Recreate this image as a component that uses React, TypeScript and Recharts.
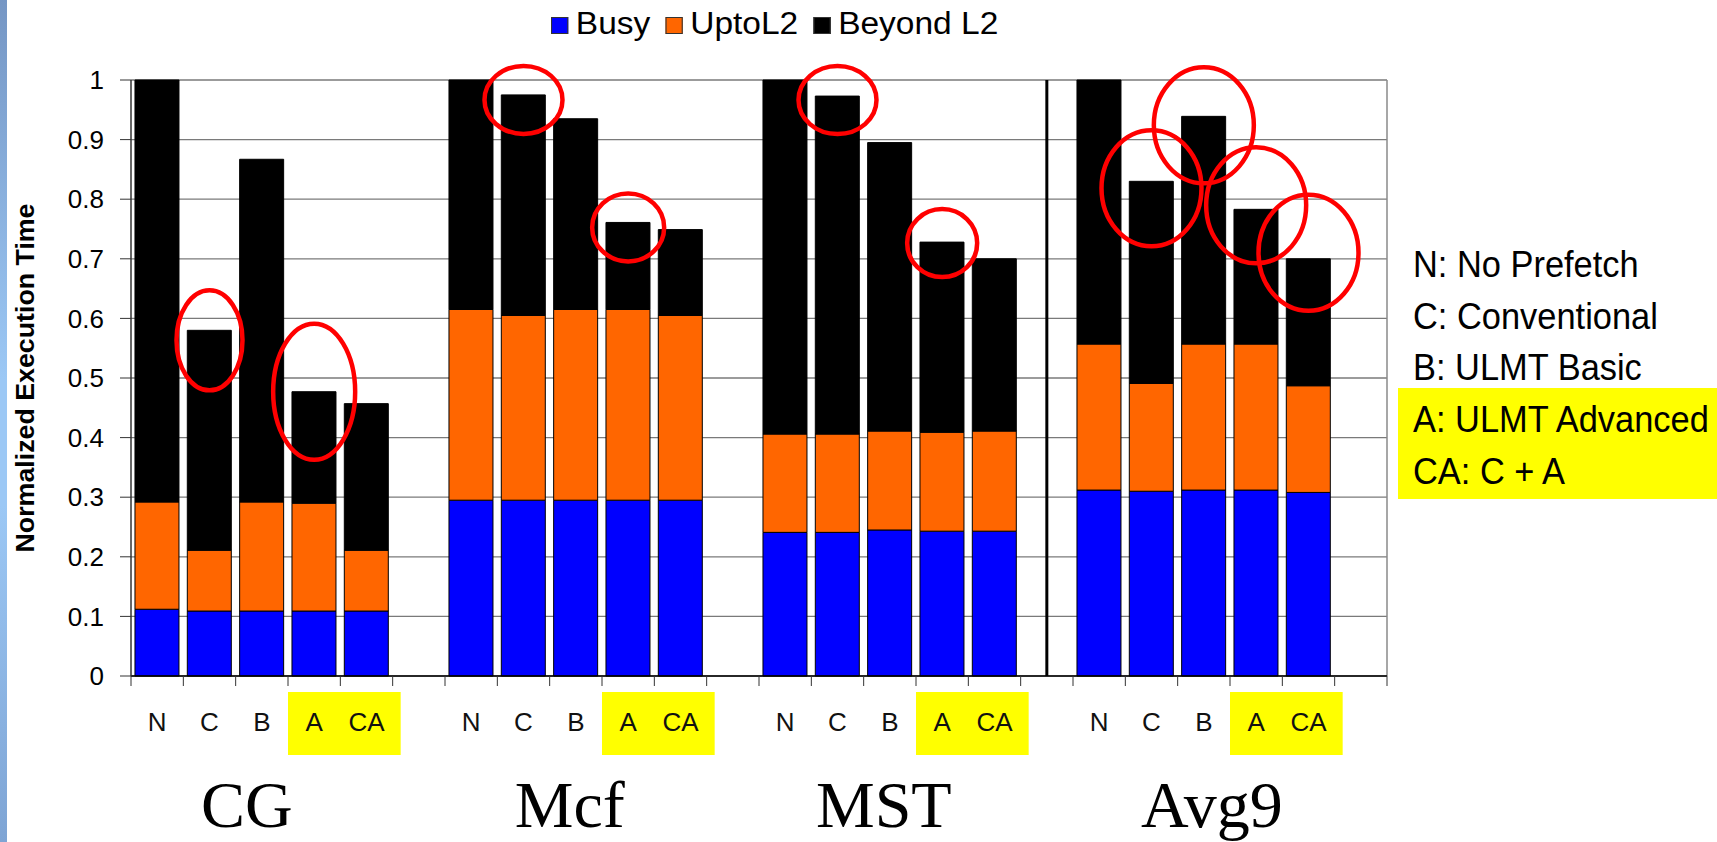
import React from "react";
import {
  BarChart,
  Bar,
  XAxis,
  YAxis,
  CartesianGrid,
  ReferenceLine,
  ReferenceDot,
} from "recharts";

const groups = ["CG", "Mcf", "MST", "Avg9"];
const schemes = ["N", "C", "B", "A", "CA"];

// segment heights per group, schemes in order N, C, B, A, CA
const busy = [
  [0.112, 0.109, 0.109, 0.109, 0.109],
  [0.295, 0.295, 0.295, 0.295, 0.295],
  [0.241, 0.241, 0.245, 0.243, 0.243],
  [0.312, 0.31, 0.312, 0.312, 0.308],
];
const uptoL2 = [
  [0.18, 0.102, 0.183, 0.181, 0.102],
  [0.32, 0.31, 0.32, 0.32, 0.31],
  [0.165, 0.165, 0.166, 0.166, 0.168],
  [0.245, 0.181, 0.245, 0.245, 0.179],
];
const beyondL2 = [
  [0.708, 0.369, 0.575, 0.187, 0.246],
  [0.385, 0.37, 0.32, 0.146, 0.144],
  [0.594, 0.567, 0.484, 0.319, 0.289],
  [0.443, 0.339, 0.382, 0.226, 0.213],
];

const yTicks = [0, 0.1, 0.2, 0.3, 0.4, 0.5, 0.6, 0.7, 0.8, 0.9, 1];

const seriesKeys = [
  { key: "busy", name: "Busy", color: "#0000FF" },
  { key: "upto", name: "UptoL2", color: "#FF6600" },
  { key: "beyond", name: "Beyond L2", color: "#000000" },
];

const keyNotes = [
  "N: No Prefetch",
  "C: Conventional",
  "B: ULMT Basic",
  "A: ULMT Advanced",
  "CA: C + A",
];

// red rings drawn around the tops of selected bars
const circled = [
  { group: "CG", scheme: "C", rx: 33, ry: 50, dy: 10 },
  { group: "CG", scheme: "A", rx: 41, ry: 68, dy: 0 },
  { group: "Mcf", scheme: "C", rx: 39, ry: 34, dy: 5 },
  { group: "Mcf", scheme: "A", rx: 36, ry: 34, dy: 5 },
  { group: "MST", scheme: "C", rx: 39, ry: 34, dy: 4 },
  { group: "MST", scheme: "A", rx: 35, ry: 34, dy: 1 },
  { group: "Avg9", scheme: "C", rx: 50, ry: 58, dy: 7 },
  { group: "Avg9", scheme: "B", rx: 50, ry: 58, dy: 9 },
  { group: "Avg9", scheme: "A", rx: 50, ry: 58, dy: -4 },
  { group: "Avg9", scheme: "CA", rx: 50, ry: 58, dy: -6 },
];

// horizontal nudge of each big group caption under its bars
const captionShift: Record<string, number> = { CG: -15, Mcf: -6, MST: -6, Avg9: 8 };

type Row = {
  id: string;
  group: string;
  letter: string;
  busy?: number;
  upto?: number;
  beyond?: number;
};

const rows: Row[] = [];
groups.forEach((g, gi) => {
  schemes.forEach((s, si) => {
    rows.push({
      id: `${g} ${s}`,
      group: g,
      letter: s,
      busy: busy[gi][si],
      upto: uptoL2[gi][si],
      beyond: beyondL2[gi][si],
    });
  });
  rows.push({ id: `${g} gap`, group: g, letter: "" });
});

const totalOf = (id: string) => {
  const r = rows.find((d) => d.id === id)!;
  return (r.busy ?? 0) + (r.upto ?? 0) + (r.beyond ?? 0);
};

const W = 1717;
const H = 842;
const AXIS_W = 131;
const MARGIN = { top: 80, right: 330, bottom: 0, left: 0 };
const SLOT = (W - AXIS_W - MARGIN.right) / rows.length;
const SANS = "'Liberation Sans', Arial, sans-serif";

const SlotTick = (props: any) => {
  const { x, y, index } = props;
  const row = rows[index];
  if (!row) return null;
  const left = x - SLOT / 2;
  return (
    <g>
      <line x1={left} x2={left} y1={y} y2={y + 10} stroke="#333" />
      {index === rows.length - 1 && (
        <line x1={x + SLOT / 2} x2={x + SLOT / 2} y1={y} y2={y + 10} stroke="#333" />
      )}
      {row.letter === "A" && (
        <rect x={left} y={y + 16} width={SLOT * 2 + 8} height={63} fill="#FFFF00" />
      )}
      {row.letter && (
        <text x={x} y={y + 55} textAnchor="middle" fontSize={26} fontFamily={SANS} fill="#111">
          {row.letter}
        </text>
      )}
      {row.letter === "B" && (
        <text
          x={x + (captionShift[row.group] ?? 0)}
          y={y + 151}
          textAnchor="middle"
          fontSize={66}
          fontFamily="'Liberation Serif', 'Times New Roman', serif"
          fill="#000"
        >
          {row.group}
        </text>
      )}
    </g>
  );
};

const AxisTitle = () => (
  <text
    transform="translate(25,378) rotate(-90)"
    textAnchor="middle"
    dominantBaseline="central"
    fontSize={25}
    fontWeight="bold"
    fontFamily={SANS}
    textLength={349}
    lengthAdjust="spacingAndGlyphs"
    fill="#000"
  >
    Normalized Execution Time
  </text>
);

const Ring = (rx: number, ry: number, dy: number) => (p: any) =>
  (
    <ellipse
      cx={p.cx}
      cy={p.cy + dy}
      rx={rx}
      ry={ry}
      fill="none"
      stroke="#FF0000"
      strokeWidth={4.5}
    />
  );

export default function App() {
  return (
    <div
      style={{
        position: "absolute",
        left: 0,
        top: 0,
        width: W,
        height: H,
        background: "#fff",
        overflow: "hidden",
        fontFamily: SANS,
      }}
    >
      {/* slide edge */}
      <div
        style={{
          position: "absolute",
          left: 0,
          top: 0,
          width: 7,
          height: H,
          background:
            "linear-gradient(to bottom, #7596c4 0%, #9cc8f5 45%, #9cc8f5 60%, #7ea4d4 100%)",
        }}
      />

      {/* series key */}
      <div
        style={{
          position: "absolute",
          left: 551,
          top: 8,
          display: "flex",
          alignItems: "center",
          fontSize: 31,
          lineHeight: "31px",
          transform: "scaleX(1.08)",
          transformOrigin: "0 0",
          whiteSpace: "nowrap",
        }}
      >
        {seriesKeys.map((s) => (
          <div key={s.key} style={{ display: "flex", alignItems: "center", marginRight: 14 }}>
            <span
              style={{
                display: "inline-block",
                width: 14,
                height: 15,
                background: s.color,
                border: "1px solid #333",
                marginRight: 7,
                position: "relative",
                top: 2,
              }}
            />
            <span>{s.name}</span>
          </div>
        ))}
      </div>

      {/* scheme notes */}
      <div
        style={{
          position: "absolute",
          left: 1398,
          top: 388,
          width: W - 1398,
          height: 111,
          background: "#FFFF00",
        }}
      />
      <div
        style={{
          position: "absolute",
          left: 1413,
          top: 239,
          fontSize: 37,
          lineHeight: "51.7px",
          transform: "scaleX(0.93)",
          transformOrigin: "0 0",
          whiteSpace: "nowrap",
          color: "#000",
        }}
      >
        {keyNotes.map((t) => (
          <div key={t}>{t}</div>
        ))}
      </div>

      <div style={{ position: "absolute", left: 0, top: 0 }}>
        <BarChart
          width={W}
          height={H}
          data={rows}
          margin={MARGIN}
          barCategoryGap="7.6%"
        >
          <CartesianGrid vertical={false} stroke="#7a7a7a" strokeWidth={1.3} />
          <XAxis
            dataKey="id"
            interval={0}
            tickLine={false}
            tickSize={0}
            tickMargin={0}
            height={166}
            axisLine={{ stroke: "#000", strokeWidth: 1.5 }}
            tick={<SlotTick />}
          />
          <YAxis
            type="number"
            domain={[0, 1]}
            ticks={yTicks}
            interval={0}
            width={AXIS_W}
            tickSize={11}
            tickMargin={16}
            tickFormatter={(v: number) => String(v)}
            axisLine={{ stroke: "#333", strokeWidth: 1.5 }}
            tickLine={{ stroke: "#333" }}
            tick={{ fill: "#000", fontSize: 26, fontFamily: SANS }}
            label={<AxisTitle />}
          />
          {seriesKeys.map((s) => (
            <Bar
              key={s.key}
              dataKey={s.key}
              name={s.name}
              stackId="t"
              fill={s.color}
              stroke="#000"
              strokeWidth={1}
              isAnimationActive={false}
            />
          ))}
          <ReferenceLine x="MST gap" stroke="#000" strokeWidth={3} />
          <ReferenceLine x="Avg9 gap" position="end" stroke="#8a8a8a" strokeWidth={1.5} />
          {circled.map((c) => {
            const id = `${c.group} ${c.scheme}`;
            return (
              <ReferenceDot
                key={id}
                x={id}
                y={totalOf(id)}
                r={c.rx}
                ifOverflow="visible"
                shape={Ring(c.rx, c.ry, c.dy)}
              />
            );
          })}
        </BarChart>
      </div>
    </div>
  );
}
